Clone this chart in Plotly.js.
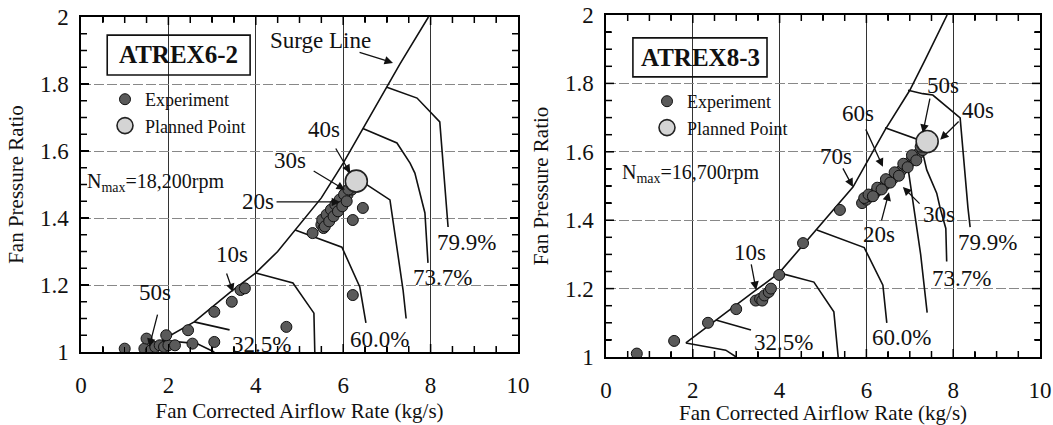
<!DOCTYPE html>
<html><head><meta charset="utf-8">
<script src="https://cdn.plot.ly/plotly-3.0.1.min.js"></script>
<style>html,body{margin:0;padding:0;background:#fff}</style>
</head><body><div id="chart" style="width:1053px;height:425px"></div>
<script>
// ---------- ATREX6-2 (left) ----------
var surge1X = [1.85, 2.59, 3.43, 4.0, 4.5, 4.9, 5.5, 6.0, 6.68, 7.3, 7.95];
var surge1Y = [1.035, 1.09, 1.18, 1.236, 1.3, 1.364, 1.46, 1.564, 1.72, 1.86, 2.0];
var spd1LowX = [1.85, 2.65, 3.05];            var spd1LowY = [1.035, 1.025, 1.0];
var spd1_325X = [2.59, 3.4];                  var spd1_325Y = [1.09, 1.066];
var spd1MidX = [4.0, 4.85, 5.33, 5.35];       var spd1MidY = [1.236, 1.206, 1.116, 1.0];
var spd1_600X = [4.9, 5.97, 6.38, 6.52];      var spd1_600Y = [1.364, 1.313, 1.194, 1.087];
var spd1AX = [6.1, 6.45, 7.07, 7.23, 7.37, 7.44]; var spd1AY = [1.54, 1.507, 1.454, 1.304, 1.185, 1.1];
var spd1_737X = [6.45, 7.23, 7.53, 7.64, 7.87, 7.94]; var spd1_737Y = [1.667, 1.624, 1.564, 1.534, 1.415, 1.266];
var spd1_799X = [7.0, 7.69, 8.21, 8.33, 8.38, 8.4];   var spd1_799Y = [1.79, 1.758, 1.687, 1.493, 1.394, 1.373];
var exp1X = [1.0, 1.45, 1.5, 1.6, 1.7, 1.8, 1.9, 2.0, 2.15, 2.55, 3.05, 1.95, 2.45, 3.05, 3.45, 3.65, 3.75, 4.7,
             5.3, 5.5, 5.55, 5.6, 5.7, 5.75, 5.8, 5.9, 6.0, 6.05, 6.1, 6.15, 6.2, 6.45, 6.22, 6.22,
             5.52, 5.62, 5.72, 5.82, 5.92, 6.02, 6.12, 5.58, 5.68, 5.78, 5.88, 5.98, 6.08];
var exp1Y = [1.01, 1.01, 1.04, 1.005, 1.015, 1.02, 1.015, 1.02, 1.02, 1.025, 1.03, 1.05, 1.065, 1.12, 1.15, 1.185, 1.19, 1.075,
             1.355, 1.38, 1.37, 1.395, 1.41, 1.42, 1.425, 1.44, 1.455, 1.475, 1.47, 1.49, 1.485, 1.43, 1.394, 1.17,
             1.395, 1.41, 1.425, 1.44, 1.455, 1.47, 1.485, 1.375, 1.39, 1.405, 1.42, 1.435, 1.45];
var plan1X = [6.3];
var plan1Y = [1.51];

// ---------- ATREX8-3 (right) ----------
var surge2X = [1.84, 2.53, 3.46, 3.99, 4.84, 5.69, 6.43, 7.0, 7.35, 7.86];
var surge2Y = [1.041, 1.108, 1.196, 1.246, 1.371, 1.497, 1.664, 1.78, 1.868, 2.0];
var spd2LowX = [1.84, 2.76, 3.0];             var spd2LowY = [1.041, 1.02, 1.0];
var spd2_325X = [2.53, 3.34];                 var spd2_325Y = [1.108, 1.079];
var spd2MidX = [3.99, 4.79, 5.25, 5.35];      var spd2MidY = [1.246, 1.219, 1.132, 1.0];
var spd2_600X = [4.86, 5.95, 6.38, 6.47];     var spd2_600Y = [1.371, 1.32, 1.21, 1.1];
var spd2AX = [6.95, 7.07, 7.25, 7.4];         var spd2AY = [1.56, 1.459, 1.3, 1.13];
var spd2_737X = [6.43, 7.23, 7.39, 7.62, 7.7, 7.83, 7.85]; var spd2_737Y = [1.67, 1.634, 1.547, 1.479, 1.435, 1.376, 1.279];
var spd2_799X = [6.96, 7.3, 7.53, 8.16, 8.34, 8.39]; var spd2_799Y = [1.78, 1.77, 1.766, 1.699, 1.436, 1.38];
var exp2X = [0.71, 1.57, 2.35, 3.0, 3.45, 3.55, 3.6, 3.65, 3.75, 3.8, 3.99, 4.54, 5.39,
             5.9, 6.0, 6.1, 6.2, 6.3, 6.4, 6.5, 6.6, 6.7, 6.8, 6.9, 7.0, 7.1, 7.2, 7.3,
             5.95, 6.05, 6.25, 6.45, 6.65, 6.85, 7.05, 7.25, 6.15, 6.35, 6.55, 6.75, 6.95, 7.15];
var exp2Y = [1.01, 1.047, 1.1, 1.14, 1.165, 1.17, 1.165, 1.18, 1.19, 1.2, 1.24, 1.333, 1.43,
             1.45, 1.46, 1.47, 1.48, 1.49, 1.5, 1.51, 1.52, 1.535, 1.545, 1.56, 1.57, 1.58, 1.595, 1.605,
             1.465, 1.475, 1.495, 1.52, 1.54, 1.565, 1.59, 1.615, 1.47, 1.49, 1.51, 1.53, 1.555, 1.575];
var plan2X = [7.4];
var plan2Y = [1.63];

var FONT = '"Liberation Serif", "Times New Roman", Times, serif';
var W = 1053, H = 425;
var dom1X = [81 / W, 518 / W], dom1Y = [1 - 352 / H, 1 - 17 / H];
var dom2X = [606 / W, 1040 / W], dom2Y = [1 - 357 / H, 1 - 15 / H];

var traces = [];
function line(x, y, xa, ya) {
  traces.push({x: x, y: y, xaxis: xa, yaxis: ya, mode: 'lines', type: 'scatter',
    line: {color: '#111', width: 1.6}, showlegend: false, hoverinfo: 'skip'});
}
[[surge1X, surge1Y], [spd1LowX, spd1LowY], [spd1_325X, spd1_325Y], [spd1MidX, spd1MidY], [spd1_600X, spd1_600Y],
 [spd1AX, spd1AY], [spd1_737X, spd1_737Y], [spd1_799X, spd1_799Y]].forEach(function (p) { line(p[0], p[1], 'x', 'y'); });
[[surge2X, surge2Y], [spd2LowX, spd2LowY], [spd2_325X, spd2_325Y], [spd2MidX, spd2MidY], [spd2_600X, spd2_600Y],
 [spd2AX, spd2AY], [spd2_737X, spd2_737Y], [spd2_799X, spd2_799Y]].forEach(function (p) { line(p[0], p[1], 'x2', 'y2'); });

// inside tick marks on all four frame sides (axis decoration, computed from the axis ranges)
function tickTrace(xa, ya, domX, domY) {
  var pxX = 10 / ((domX[1] - domX[0]) * W), pxY = 1 / ((domY[1] - domY[0]) * H);
  var tx = [], ty = [];
  for (var i = 1; i < 20; i++) {
    var v = i * 0.5, len = (i % 4 === 0) ? 8 : 6;
    tx.push(v, v, null, v, v, null); ty.push(1, 1 + len * pxY, null, 2, 2 - len * pxY, null);
  }
  for (var j = 1; j < 20; j++) {
    var w = 1 + j * 0.05, l2 = (j % 4 === 0) ? 8 : 6;
    tx.push(0, l2 * pxX, null, 10, 10 - l2 * pxX, null); ty.push(w, w, null, w, w, null);
  }
  traces.push({x: tx, y: ty, xaxis: xa, yaxis: ya, mode: 'lines', type: 'scatter', connectgaps: false,
    line: {color: '#000', width: 1.5}, showlegend: false, hoverinfo: 'skip'});
}
tickTrace('x', 'y', dom1X, dom1Y);
tickTrace('x2', 'y2', dom2X, dom2Y);

var expMarker = {size: 11, color: '#5a5a5a', line: {color: '#111', width: 1}};
var planMarker = {size: 22, color: '#d4d4d4', line: {color: '#222', width: 1.6}};
traces.push({x: exp1X, y: exp1Y, xaxis: 'x', yaxis: 'y', mode: 'markers', type: 'scatter', name: 'Experiment', marker: expMarker, legend: 'legend'});
traces.push({x: plan1X, y: plan1Y, xaxis: 'x', yaxis: 'y', mode: 'markers', type: 'scatter', name: 'Planned Point', marker: planMarker, legend: 'legend'});
traces.push({x: exp2X, y: exp2Y, xaxis: 'x2', yaxis: 'y2', mode: 'markers', type: 'scatter', name: 'Experiment', marker: expMarker, legend: 'legend2'});
traces.push({x: plan2X, y: plan2Y, xaxis: 'x2', yaxis: 'y2', mode: 'markers', type: 'scatter', name: 'Planned Point', marker: planMarker, legend: 'legend2'});

function xax(dom, anchor) {
  return {domain: dom, anchor: anchor, range: [0, 10], dtick: 2, tick0: 0, ticks: 'inside', ticklen: 8, tickwidth: 1.3,
    tickcolor: '#000', showline: true, linecolor: '#000', linewidth: 1.6, mirror: 'ticks', showgrid: true,
    gridcolor: '#333', gridwidth: 1.3, zeroline: false, ticklabelstandoff: 12,
    minor: {ticks: 'inside', dtick: 0.5, ticklen: 5, tickwidth: 1.3, tickcolor: '#000'},
    tickfont: {size: 23, family: FONT, color: '#111'},
    title: {text: 'Fan Corrected Airflow Rate (kg/s)', font: {size: 21, family: FONT, color: '#111'}, standoff: 6}};
}
function yax(dom, anchor) {
  return {domain: dom, anchor: anchor, range: [1, 2], dtick: 0.2, tick0: 1, ticks: 'inside', ticklen: 8, tickwidth: 1.3,
    tickcolor: '#000', showline: true, linecolor: '#000', linewidth: 1.6, mirror: 'ticks', showgrid: true,
    gridcolor: '#888', gridwidth: 1, griddash: '10px,3px', zeroline: false, ticklabelstandoff: 6,
    minor: {ticks: 'inside', dtick: 0.05, ticklen: 5, tickwidth: 1.3, tickcolor: '#000'},
    tickfont: {size: 23, family: FONT, color: '#111'},
    title: {text: 'Fan Pressure Ratio', font: {size: 21, family: FONT, color: '#111'}, standoff: 10}};
}

var ann = [];
function txt(t, x, y, xr, yr, opts) {
  var a = {text: t, x: x, y: y, xref: xr, yref: yr, showarrow: false, font: {size: 23, family: FONT, color: '#111'}};
  for (var k in (opts || {})) a[k] = opts[k];
  ann.push(a);
}
function arr(hx, hy, tx, ty, xr, yr) {
  ann.push({text: '', x: hx, y: hy, ax: tx, ay: ty, xref: xr, yref: yr, axref: xr, ayref: yr, showarrow: true,
    arrowhead: 2, arrowsize: 1.3, arrowwidth: 1.3, arrowcolor: '#111'});
}
// left labels
txt('<b>ATREX6-2</b>', 2.22, 1.887, 'x', 'y', {font: {size: 25, family: FONT, color: '#111'}});
txt('N<sub>max</sub>=18,200rpm', 0.1, 1.505, 'x', 'y', {xanchor: 'left', font: {size: 20, family: FONT, color: '#111'}});
txt('Surge Line', 5.47, 1.931, 'x', 'y');
arr(7.14, 1.863, 6.34, 1.896, 'x', 'y');
txt('40s', 5.56, 1.663, 'x', 'y'); arr(6.16, 1.534, 5.81, 1.612, 'x', 'y');
txt('30s', 4.78, 1.573, 'x', 'y'); arr(6.04, 1.484, 5.29, 1.543, 'x', 'y');
txt('20s', 4.05, 1.448, 'x', 'y'); arr(5.93, 1.448, 4.44, 1.448, 'x', 'y');
txt('10s', 3.46, 1.29, 'x', 'y'); arr(3.48, 1.179, 3.32, 1.239, 'x', 'y');
txt('50s', 1.69, 1.179, 'x', 'y'); arr(1.56, 1.015, 1.76, 1.116, 'x', 'y');
txt('32.5%', 4.14, 1.021, 'x', 'y');
txt('60.0%', 6.84, 1.036, 'x', 'y');
txt('73.7%', 8.28, 1.221, 'x', 'y');
txt('79.9%', 8.83, 1.328, 'x', 'y');
// right labels
txt('<b>ATREX8-3</b>', 2.17, 1.877, 'x2', 'y2', {font: {size: 25, family: FONT, color: '#111'}});
txt('N<sub>max</sub>=16,700rpm', 0.32, 1.538, 'x2', 'y2', {xanchor: 'left', font: {size: 20, family: FONT, color: '#111'}});
txt('50s', 7.76, 1.795, 'x2', 'y2'); arr(7.3, 1.655, 7.47, 1.76, 'x2', 'y2');
txt('40s', 8.57, 1.722, 'x2', 'y2'); arr(7.7, 1.635, 8.16, 1.693, 'x2', 'y2');
txt('60s', 5.81, 1.713, 'x2', 'y2'); arr(6.38, 1.556, 5.97, 1.67, 'x2', 'y2');
txt('70s', 5.3, 1.585, 'x2', 'y2'); arr(5.69, 1.497, 5.44, 1.556, 'x2', 'y2');
txt('30s', 7.67, 1.418, 'x2', 'y2'); arr(6.84, 1.497, 7.26, 1.444, 'x2', 'y2');
txt('20s', 6.29, 1.357, 'x2', 'y2'); arr(6.52, 1.482, 6.34, 1.395, 'x2', 'y2');
txt('10s', 3.32, 1.307, 'x2', 'y2'); arr(3.46, 1.196, 3.34, 1.275, 'x2', 'y2');
txt('32.5%', 4.08, 1.041, 'x2', 'y2');
txt('60.0%', 6.82, 1.058, 'x2', 'y2');
txt('73.7%', 8.2, 1.231, 'x2', 'y2');
txt('79.9%', 8.78, 1.336, 'x2', 'y2');

var shapes = [
  {type: 'rect', xref: 'x', yref: 'y', x0: 0.6, x1: 3.87, y0: 1.827, y1: 1.946, line: {color: '#111', width: 1.6}, fillcolor: 'rgba(0,0,0,0)'},
  {type: 'rect', xref: 'x2', yref: 'y2', x0: 0.62, x1: 3.71, y0: 1.819, y1: 1.933, line: {color: '#111', width: 1.6}, fillcolor: 'rgba(0,0,0,0)'}
];

var layout = {
  width: W, height: H, margin: {l: 0, r: 0, t: 0, b: 0}, paper_bgcolor: '#fff', plot_bgcolor: '#fff',
  font: {family: FONT, color: '#111'},
  xaxis: xax(dom1X, 'y'),
  yaxis: yax(dom1Y, 'x'),
  xaxis2: xax(dom2X, 'y2'),
  yaxis2: yax(dom2Y, 'x2'),
  legend: {x: 105 / W, y: 1 - 81 / H, xanchor: 'left', yanchor: 'top', bgcolor: 'rgba(0,0,0,0)', font: {size: 18, family: FONT, color: '#111'}, itemwidth: 30},
  legend2: {x: 647 / W, y: 1 - 83 / H, xanchor: 'left', yanchor: 'top', bgcolor: 'rgba(0,0,0,0)', font: {size: 18, family: FONT, color: '#111'}, itemwidth: 30},
  annotations: ann, shapes: shapes, hovermode: false
};
Plotly.newPlot('chart', traces, layout, {staticPlot: true, displayModeBar: false});
</script></body></html>
